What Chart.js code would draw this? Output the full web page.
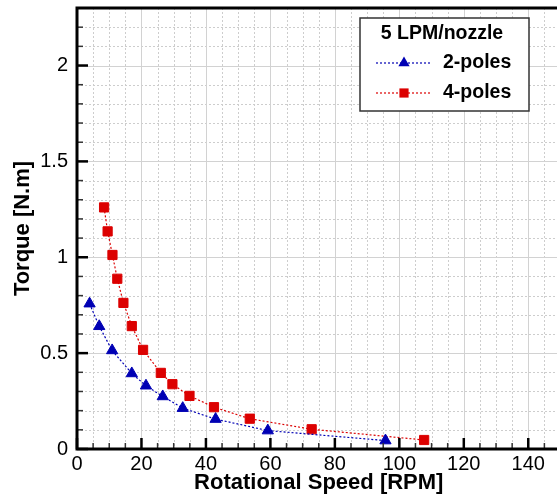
<!DOCTYPE html>
<html>
<head>
<meta charset="utf-8">
<script src="https://cdn.jsdelivr.net/npm/chart.js@4.4.1/dist/chart.umd.min.js"></script>
<style>
  html, body { margin: 0; padding: 0; background: #fff; overflow: hidden; }
  #wrap { position: relative; width: 570px; height: 500px; }
</style>
</head>
<body>
<div id="wrap"><canvas id="chart"></canvas></div>
<script>
/* ── measured torque vs speed, 5 LPM per nozzle ── */
const SPEED_2P  = [3.9, 6.9, 10.9, 17.0, 21.4, 26.6, 32.8, 43.0, 59.2, 95.7];
const TORQUE_2P = [0.758, 0.640, 0.514, 0.394, 0.330, 0.274, 0.213, 0.156, 0.096, 0.044];

const SPEED_4P  = [8.4, 9.5, 11.0, 12.5, 14.4, 17.0, 20.5, 26.0, 29.6, 34.9, 42.5, 53.6, 72.8, 107.7];
const TORQUE_4P = [1.26, 1.135, 1.012, 0.888, 0.762, 0.641, 0.517, 0.397, 0.338, 0.277, 0.218, 0.158, 0.103, 0.047];

const X_TICKS = [0, 20, 40, 60, 80, 100, 120, 140];
const Y_TICKS = [0, 0.5, 1, 1.5, 2];
const LEGEND_TITLE = '5 LPM/nozzle';
const SERIES_NAMES = ['2-poles', '4-poles'];

const FONT = '"Liberation Sans", Arial, Helvetica, sans-serif';
const BLUE = '#0000b4';
const RED  = '#dc0000';

/* ── grid, inward ticks, frame and legend ── */
Chart.register({
  id: 'tecframe',
  beforeDatasetsDraw(chart) {
    const { ctx, chartArea: a, scales: { x, y } } = chart;
    ctx.save();
    // minor dotted grid
    ctx.strokeStyle = '#cdcdcd';
    ctx.lineWidth = 1;
    ctx.setLineDash([2, 2]);
    for (let v = 5; v < 150; v += 5) {
      if (v % 20 === 0) continue;
      const px = Math.round(x.getPixelForValue(v)) + 0.5;
      ctx.beginPath(); ctx.moveTo(px, a.top); ctx.lineTo(px, a.bottom); ctx.stroke();
    }
    for (let i = 1; i <= 23; i++) {
      if (i % 5 === 0) continue;
      const py = Math.round(y.getPixelForValue(i / 10)) + 0.5;
      ctx.beginPath(); ctx.moveTo(a.left, py); ctx.lineTo(a.right, py); ctx.stroke();
    }
    // major solid grid
    ctx.setLineDash([]);
    ctx.strokeStyle = '#d2d2d2';
    X_TICKS.forEach(v => {
      const px = Math.round(x.getPixelForValue(v)) + 0.5;
      ctx.beginPath(); ctx.moveTo(px, a.top); ctx.lineTo(px, a.bottom); ctx.stroke();
    });
    Y_TICKS.forEach(v => {
      const py = Math.round(y.getPixelForValue(v)) + 0.5;
      ctx.beginPath(); ctx.moveTo(a.left, py); ctx.lineTo(a.right, py); ctx.stroke();
    });
    ctx.restore();
  },
  afterDatasetsDraw(chart) {
    const { ctx, chartArea: a, scales: { x, y } } = chart;
    ctx.save();
    // minor ticks
    ctx.lineWidth = 1.5;
    ctx.strokeStyle = '#333';
    for (let v = 5; v < 150; v += 5) {
      if (v % 20 === 0) continue;
      const px = x.getPixelForValue(v);
      ctx.beginPath(); ctx.moveTo(px, a.bottom); ctx.lineTo(px, a.bottom - 6); ctx.stroke();
    }
    for (let i = 1; i <= 23; i++) {
      if (i % 5 === 0) continue;
      const py = y.getPixelForValue(i / 10);
      ctx.beginPath(); ctx.moveTo(a.left, py); ctx.lineTo(a.left + 6, py); ctx.stroke();
    }
    // major ticks
    ctx.lineWidth = 2.5;
    ctx.strokeStyle = '#000';
    X_TICKS.forEach(v => {
      const px = x.getPixelForValue(v);
      ctx.beginPath(); ctx.moveTo(px, a.bottom); ctx.lineTo(px, a.bottom - 11); ctx.stroke();
    });
    Y_TICKS.forEach(v => {
      const py = y.getPixelForValue(v);
      ctx.beginPath(); ctx.moveTo(a.left, py); ctx.lineTo(a.left + 11, py); ctx.stroke();
    });
    // frame
    ctx.lineWidth = 3;
    ctx.strokeRect(a.left, a.top, a.right - a.left, a.bottom - a.top);
    ctx.restore();
  },
  afterDraw(chart) {
    const { ctx } = chart;
    const bx = 360, by = 18, bw = 169, bh = 93;
    ctx.save();
    ctx.fillStyle = '#fff';
    ctx.fillRect(bx, by, bw, bh);
    ctx.strokeStyle = '#333';
    ctx.lineWidth = 1.5;
    ctx.strokeRect(bx, by, bw, bh);

    ctx.fillStyle = '#000';
    ctx.textBaseline = 'middle';
    ctx.font = `bold 19.5px ${FONT}`;
    ctx.textAlign = 'center';
    ctx.fillText(LEGEND_TITLE, 442, 34);

    ctx.textAlign = 'left';
    chart.data.datasets.forEach((ds, i) => {
      const ly = 63 + i * 30;
      ctx.strokeStyle = ds.borderColor;
      ctx.lineWidth = 1.2;
      ctx.setLineDash(ds.borderDash);
      ctx.beginPath(); ctx.moveTo(376, ly); ctx.lineTo(430, ly); ctx.stroke();
      ctx.setLineDash([]);
      ctx.fillStyle = ds.pointBackgroundColor;
      const r = ds.pointRadius;
      ctx.beginPath();
      if (ds.pointStyle === 'triangle') {
        ctx.moveTo(404, ly - r);
        ctx.lineTo(404 + r * 0.866, ly + r / 2);
        ctx.lineTo(404 - r * 0.866, ly + r / 2);
        ctx.closePath();
      } else {
        const s = r * Math.SQRT1_2;
        ctx.rect(404 - s, ly - s, 2 * s, 2 * s);
      }
      ctx.fill();
      ctx.fillStyle = '#000';
      ctx.fillText(SERIES_NAMES[i], 443, ly);
    });
    ctx.restore();
  },
});

const mk = (xs, ys) => xs.map((v, i) => ({ x: v, y: ys[i] }));

new Chart(document.getElementById('chart'), {
  type: 'line',
  data: {
    datasets: [
      {
        label: SERIES_NAMES[0],
        data: mk(SPEED_2P, TORQUE_2P),
        borderColor: BLUE,
        borderWidth: 1.2,
        borderDash: [2, 2],
        pointStyle: 'triangle',
        pointRadius: 6.5,
        pointBackgroundColor: BLUE,
        pointBorderColor: BLUE,
        pointBorderWidth: 1,
        tension: 0,
      },
      {
        label: SERIES_NAMES[1],
        data: mk(SPEED_4P, TORQUE_4P),
        borderColor: RED,
        borderWidth: 1.2,
        borderDash: [2, 2],
        pointStyle: 'rect',
        pointRadius: 6.5,
        pointBackgroundColor: RED,
        pointBorderColor: RED,
        pointBorderWidth: 1,
        tension: 0,
      },
    ],
  },
  options: {
    animation: false,
    responsive: true,
    maintainAspectRatio: false,
    layout: { padding: { top: 8, right: 9.5, left: 0, bottom: 0 } },
    plugins: { legend: { display: false }, tooltip: { enabled: false } },
    scales: {
      x: {
        type: 'linear', min: 0, max: 150,
        afterBuildTicks: s => { s.ticks = X_TICKS.map(v => ({ value: v })); },
        afterFit: s => { s.height = 51; s.paddingLeft = 0; s.paddingRight = 0; },
        grid: { display: false, drawTicks: false },
        border: { display: false },
        ticks: { color: '#000', padding: 3, maxRotation: 0, font: { family: FONT, size: 20 } },
        title: {
          display: true, text: 'Rotational Speed [RPM]', color: '#000',
          font: { family: FONT, size: 22, weight: 'bold' },
          padding: { top: 0, bottom: 4 },
        },
      },
      y: {
        type: 'linear', min: 0, max: 2.3,
        afterBuildTicks: s => { s.ticks = Y_TICKS.map(v => ({ value: v })); },
        afterFit: s => { s.width = 77; s.paddingTop = 0; s.paddingBottom = 0; },
        grid: { display: false, drawTicks: false },
        border: { display: false },
        ticks: { color: '#000', padding: 9, font: { family: FONT, size: 20 }, callback: v => String(v) },
        title: {
          display: true, text: 'Torque [N.m]', color: '#000',
          font: { family: FONT, size: 22, weight: 'bold' },
          padding: { top: 10, bottom: 0 },
        },
      },
    },
  },
});
</script>
</body>
</html>
